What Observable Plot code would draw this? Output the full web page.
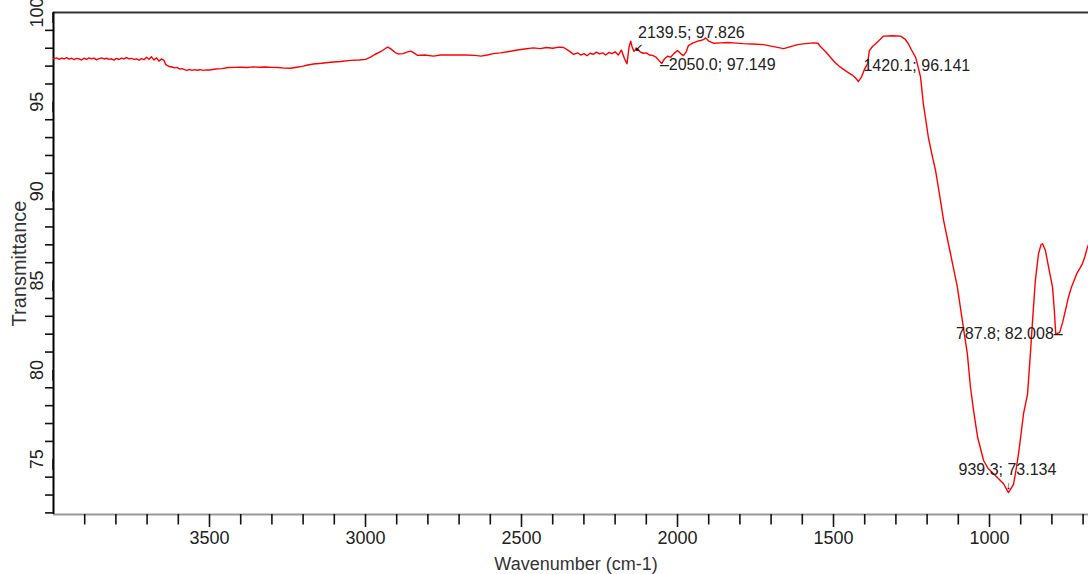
<!DOCTYPE html>
<html>
<head>
<meta charset="utf-8">
<script src="https://cdn.jsdelivr.net/npm/d3@7"></script>
<script src="https://cdn.jsdelivr.net/npm/@observablehq/plot@0.6"></script>
<style>
  html, body { margin: 0; padding: 0; background: #fff; }
  svg { display: block; }
</style>
</head>
<body>
<script>
// Spectrum: wavenumber (cm-1) and transmittance (%)
const wavenumbers = [4000,3990,3982,3974,3966,3958,3950,3942,3934,3926,3918,3910,3902,3894,3886,3878,3870,3862,3854,3846,3838,3830,3822,3814,3806,3798,3790,3782,3774,3766,3758,3750,3742,3734,3726,3718,3710,3702,3694,3686,3678,3670,3662,3654,3646,3640,3630,3620,3612,3604,3596,3588,3580,3572,3564,3556,3548,3540,3530,3520,3510,3500,3480,3460,3440,3420,3400,3380,3360,3340,3320,3300,3280,3260,3240,3220,3200,3185,3167,3140,3112,3080,3048,3020,3000,2984,2970,2950,2935,2928,2918,2905,2895,2880,2865,2855,2845,2833,2810,2782,2760,2720,2680,2650,2630,2610,2590,2567,2540,2513,2490,2462,2440,2420,2400,2380,2365,2350,2333,2320,2310,2300,2290,2280,2270,2260,2250,2240,2230,2220,2210,2200,2190,2180,2170,2162,2155,2150,2145,2139.5,2130,2120,2110,2100,2090,2080,2070,2060,2050,2042,2032,2022,2012,2000,1990,1981,1972,1965,1950,1935,1926,1915,1910,1900,1885,1860,1840,1821,1790,1760,1724,1700,1680,1660,1640,1615,1590,1564,1550,1542,1525,1510,1495,1478,1455,1440,1430,1420.1,1410,1400,1391,1385,1375,1365,1350,1340,1310,1285,1270,1260,1250,1237,1228,1221,1212,1196,1185,1173,1160,1147,1125,1103,1087,1071,1061,1050,1038,1019,1005,987,970,955,939.3,923,915,907,899,891,878,869,862,853,843,835,830,821,810,798,792,787.8,775,765,757,748,738,720,710,702,695,686,680];
const transmittance = [97.42,97.46,97.38,97.45,97.40,97.47,97.39,97.44,97.36,97.43,97.41,97.34,97.44,97.38,97.46,97.40,97.45,97.35,97.42,97.46,97.40,97.44,97.38,97.41,97.34,97.43,97.37,97.45,97.40,97.48,97.41,97.43,97.38,97.40,97.33,97.42,97.36,97.50,97.38,97.52,97.34,97.46,97.28,97.40,97.32,97.08,96.98,96.95,96.90,96.93,96.84,96.86,96.80,96.76,96.82,96.76,96.80,96.77,96.80,96.76,96.79,96.78,96.84,96.86,96.92,96.93,96.94,96.92,96.96,96.94,96.95,96.93,96.92,96.89,96.88,96.94,97.00,97.06,97.12,97.16,97.22,97.26,97.32,97.34,97.38,97.50,97.65,97.82,98.00,98.06,97.95,97.76,97.68,97.70,97.80,97.84,97.74,97.60,97.62,97.56,97.62,97.63,97.62,97.60,97.56,97.62,97.70,97.74,97.82,97.90,97.96,98.02,97.98,98.04,98.00,98.06,98.04,97.88,97.66,97.74,97.62,97.70,97.58,97.72,97.66,97.78,97.68,97.74,97.62,97.76,97.70,97.80,97.62,97.90,97.42,97.13,98.10,98.40,98.05,97.826,98.00,97.80,97.72,97.74,97.62,97.60,97.52,97.32,97.149,97.40,97.55,97.50,97.70,97.87,97.70,97.59,97.80,98.15,98.30,98.40,98.43,98.50,98.58,98.40,98.28,98.30,98.32,98.30,98.26,98.24,98.20,98.12,98.05,97.98,98.08,98.20,98.26,98.30,98.28,98.10,97.80,97.50,97.20,96.94,96.66,96.50,96.35,96.141,96.40,96.85,97.13,97.87,98.10,98.25,98.50,98.68,98.70,98.68,98.50,98.25,97.90,97.50,96.90,96.38,94.89,93.02,92.10,91.16,89.80,88.36,86.50,84.63,82.76,80.90,79.03,77.60,76.23,74.93,74.50,74.19,73.90,73.63,73.134,73.60,74.40,75.30,76.40,77.54,78.66,80.90,82.76,85.00,86.50,87.00,87.06,86.70,85.70,84.63,83.30,82.008,82.10,82.70,83.30,84.00,84.60,85.40,85.70,85.95,86.30,86.87,87.10];

// Peak annotations
const peakWavenumbers = [2139.5, 2050.0, 1420.1, 939.3, 787.8];
const peakTransmittance = [97.826, 97.149, 96.141, 73.134, 82.008];

// Axis ticks
const xDomain = [4000, 682.7];
const yDomain = [71.91, 100];
const xMajorTicks = [3500, 3000, 2500, 2000, 1500, 1000];
const xMinorTicks = [3900, 3800, 3700, 3600, 3400, 3300, 3200, 3100, 2900, 2800, 2700, 2600, 2400, 2300, 2200, 2100, 1900, 1800, 1700, 1600, 1400, 1300, 1200, 1100, 900, 800, 700];
const yMajorTicks = [75, 80, 85, 90, 95, 100];
const yMinorTicks = [72, 73, 74, 76, 77, 78, 79, 81, 82, 83, 84, 86, 87, 88, 89, 91, 92, 93, 94, 96, 97, 98, 99];

const xTitle = "Wavenumber (cm-1)";
const yTitle = "Transmittance";

const spectrum = wavenumbers.map((w, i) => ({w, t: transmittance[i]}));
const peaks = peakWavenumbers.map((w, i) => ({
  w, t: peakTransmittance[i],
  label: `${w.toFixed(1)}; ${peakTransmittance[i].toFixed(3)}`
}));
const pk = (i) => [peaks[i]];

const annFont = 16;
const annFill = "#222";

const chart = Plot.plot({
  width: 1088,
  height: 574,
  marginLeft: 53,
  marginRight: 0,
  marginTop: 12,
  marginBottom: 60,
  style: {fontFamily: "'Liberation Sans', Arial, sans-serif", background: "#fff", overflow: "visible"},
  x: {domain: xDomain, label: null},
  y: {domain: yDomain, label: null},
  marks: [
    // frame lines
    Plot.ruleY([yDomain[1]], {stroke: "#333", strokeWidth: 2}),
    Plot.ruleY([yDomain[0]], {stroke: "#999", strokeWidth: 2}),
    Plot.ruleX([xDomain[0]], {stroke: "#000", strokeWidth: 2}),
    // x axis
    Plot.axisX({ticks: xMajorTicks, tickSize: 13, tickPadding: 4, fontSize: 18, tickFormat: d => String(d), stroke: "#111", strokeWidth: 1.6, fill: "#222", label: null}),
    Plot.axisX({ticks: xMinorTicks, tickSize: 10.5, tickFormat: () => "", stroke: "#111", strokeWidth: 1.6, label: null}),
    // y axis
    Plot.axisY({ticks: yMajorTicks, tickSize: 10.5, tickPadding: 6, fontSize: 18, rotate: -90, textAnchor: "middle", tickFormat: d => String(d), stroke: "#111", strokeWidth: 1.6, fill: "#222", label: null}),
    Plot.axisY({ticks: yMinorTicks, tickSize: 8, tickFormat: () => "", stroke: "#111", strokeWidth: 1.6, label: null}),
    // axis titles
    Plot.text([xTitle], {frameAnchor: "bottom", textAnchor: "middle", lineAnchor: "middle", dx: 5, dy: 50, fontSize: 18, fill: "#333", text: d => d}),
    Plot.text([yTitle], {frameAnchor: "left", textAnchor: "middle", lineAnchor: "middle", dx: -34, dy: 0, rotate: -90, fontSize: 20, fill: "#333", text: d => d}),
    // spectrum
    Plot.line(spectrum, {x: "w", y: "t", stroke: "#ff0000", strokeWidth: 1.4}),
    // annotations
    Plot.text(pk(0), {x: "w", y: "t", text: "label", textAnchor: "start", dx: 4, dy: -18, fontSize: annFont, fill: annFill}),
    Plot.text(pk(0), {x: "w", y: "t", text: () => "↙", textAnchor: "start", dx: 0, dy: -4, fontSize: 11, fill: "#000"}),
    Plot.text(pk(1), {x: "w", y: "t", text: d => "–" + d.label, textAnchor: "start", dx: -2, dy: 1, fontSize: annFont, fill: annFill}),
    Plot.text(pk(2), {x: "w", y: "t", text: "label", textAnchor: "start", dx: 5, dy: -16, fontSize: annFont, fill: annFill}),
    Plot.text(pk(3), {x: "w", y: "t", text: "label", textAnchor: "middle", dx: -1, dy: -23, fontSize: annFont, fill: annFill}),
    Plot.text(pk(3), {x: "w", y: "t", text: () => "↓", textAnchor: "middle", dx: 0, dy: -7, fontSize: 11, fill: "#000"}),
    Plot.text(pk(4), {x: "w", y: "t", text: d => d.label + "–", textAnchor: "end", dx: 7, dy: 0, fontSize: annFont, fill: annFill})
  ]
});

document.body.appendChild(chart);
</script>
</body>
</html>
